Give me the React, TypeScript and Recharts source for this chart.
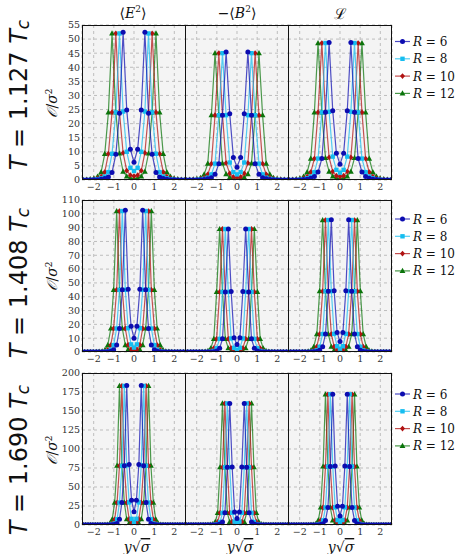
import React from 'react';
import { LineChart, Line, XAxis, YAxis, CartesianGrid } from 'recharts';

// Lattice positions (y*sqrt(sigma)) from the centre outward, one list per temperature row
const X_T1 = [0, 0.18, 0.36, 0.54, 0.72, 0.9, 1.09, 1.27, 1.45, 1.63, 1.81, 1.99, 2.17, 2.35, 2.53, 2.72];
const X_T2 = [0, 0.144, 0.29, 0.43, 0.58, 0.72, 0.86, 1.01, 1.15, 1.3, 1.44, 1.58, 1.73, 1.87, 2.02, 2.16, 2.3, 2.45, 2.59];
const X_T3 = [0, 0.12, 0.24, 0.36, 0.48, 0.6, 0.72, 0.84, 0.96, 1.08, 1.2, 1.32, 1.44, 1.56, 1.68, 1.8, 1.92, 2.04, 2.16, 2.28, 2.4, 2.52, 2.64];

const R_LABELS = ['R = 6', 'R = 8', 'R = 10', 'R = 12'];
const TEMPS = ['1.127', '1.408', '1.690'];
const COLUMN_TITLES = ['E', 'B', 'L'];
const X_TICKS = [-2, -1, 0, 1, 2];
const Y_TICKS_T1 = [0, 5, 10, 15, 20, 25, 30, 35, 40, 45, 50, 55];
const Y_TICKS_T2 = [0, 10, 20, 30, 40, 50, 60, 70, 80, 90, 100, 110];
const Y_TICKS_T3 = [0, 25, 50, 75, 100, 125, 150, 175, 200];

// Half profiles (centre outward; the picture is symmetric about 0, tail beyond list is 0)
// Row T = 1.127 Tc
const E2_T1_R6 = [6.3, 10.9, 24.8, 52.4, 23.7, 9.1, 2.7, 1.1, 0.5, 0.25, 0.1, 0.05];
const E2_T1_R8 = [3.2, 4.3, 10.0, 24.3, 52.0, 24.0, 9.3, 2.8, 1.2, 0.6, 0.3, 0.15, 0.05];
const E2_T1_R10 = [1.4, 1.7, 3.3, 9.6, 24.0, 52.0, 24.0, 9.3, 2.8, 1.2, 0.6, 0.3, 0.15, 0.05];
const E2_T1_R12 = [0.6, 0.7, 1.3, 3.0, 9.4, 24.0, 52.0, 24.0, 9.3, 2.8, 1.2, 0.6, 0.3, 0.15, 0.05];
const B2_T1_R6 = [4.5, 8.0, 23.5, 45.4, 23.0, 5.8, 2.0, 0.8, 0.4, 0.2, 0.1];
const B2_T1_R8 = [2.0, 2.8, 6.2, 23.0, 45.0, 23.0, 5.8, 2.0, 0.8, 0.4, 0.2, 0.1];
const B2_T1_R10 = [0.9, 1.1, 2.3, 6.0, 23.0, 45.0, 23.0, 5.8, 2.0, 0.8, 0.4, 0.2, 0.1];
const B2_T1_R12 = [0.4, 0.5, 0.9, 2.1, 5.9, 23.0, 45.0, 23.0, 5.8, 2.0, 0.8, 0.4, 0.2, 0.1];
const L_T1_R6 = [5.6, 9.5, 24.6, 48.8, 24.0, 7.6, 2.8, 1.2, 0.6, 0.3, 0.15];
const L_T1_R8 = [2.6, 3.6, 8.3, 24.2, 48.6, 24.0, 7.6, 2.8, 1.2, 0.6, 0.3, 0.15];
const L_T1_R10 = [1.2, 1.5, 3.0, 8.0, 24.0, 48.6, 24.0, 7.6, 2.8, 1.2, 0.6, 0.3, 0.15];
const L_T1_R12 = [0.6, 0.7, 1.3, 3.0, 7.8, 24.0, 48.6, 24.0, 7.6, 2.8, 1.2, 0.6, 0.3, 0.15];
// Row T = 1.408 Tc
const E2_T2_R6 = [10.0, 18.6, 45.5, 102.5, 45.0, 17.0, 5.0, 1.6, 0.5, 0.2, 0.05];
const E2_T2_R8 = [3.2, 5.5, 17.2, 45.0, 102.0, 45.0, 17.0, 5.0, 1.6, 0.5, 0.2, 0.05];
const E2_T2_R10 = [1.0, 1.8, 5.2, 17.0, 45.0, 102.0, 45.0, 17.0, 5.0, 1.6, 0.5, 0.2, 0.05];
const E2_T2_R12 = [0.4, 0.6, 1.7, 5.0, 17.0, 45.0, 102.0, 45.0, 17.0, 5.0, 1.6, 0.5, 0.2, 0.05];
const B2_T2_R6 = [5.4, 10.3, 43.8, 89.0, 43.5, 9.5, 2.7, 0.8, 0.25, 0.08];
const B2_T2_R8 = [1.6, 3.0, 9.8, 43.5, 89.0, 43.5, 9.5, 2.7, 0.8, 0.25, 0.08];
const B2_T2_R10 = [0.5, 0.9, 2.8, 9.5, 43.5, 89.0, 43.5, 9.5, 2.7, 0.8, 0.25, 0.08];
const B2_T2_R12 = [0.2, 0.3, 0.9, 2.7, 9.5, 43.5, 89.0, 43.5, 9.5, 2.7, 0.8, 0.25, 0.08];
const L_T2_R6 = [7.6, 14.2, 44.4, 95.7, 44.0, 13.0, 3.8, 1.2, 0.4, 0.12];
const L_T2_R8 = [2.4, 4.2, 13.1, 44.0, 95.5, 44.0, 13.0, 3.8, 1.2, 0.4, 0.12];
const L_T2_R10 = [0.8, 1.3, 3.9, 13.0, 44.0, 95.5, 44.0, 13.0, 3.8, 1.2, 0.4, 0.12];
const L_T2_R12 = [0.25, 0.5, 1.25, 3.8, 13.0, 44.0, 95.5, 44.0, 13.0, 3.8, 1.2, 0.4, 0.12];
// Row T = 1.690 Tc
const E2_T3_R6 = [17.5, 32.5, 79.5, 183.5, 78.0, 29.5, 7.5, 2.0, 0.6, 0.2];
const E2_T3_R8 = [4.0, 8.1, 29.7, 78.5, 183.0, 78.0, 29.5, 7.5, 2.0, 0.6, 0.2];
const E2_T3_R10 = [1.2, 2.2, 7.6, 29.5, 78.0, 183.0, 78.0, 29.5, 7.5, 2.0, 0.6, 0.2];
const E2_T3_R12 = [0.4, 0.8, 2.1, 7.6, 29.5, 78.0, 183.0, 78.0, 29.5, 7.5, 2.0, 0.6, 0.2];
const B2_T3_R6 = [8.5, 17.2, 76.4, 160.0, 76.0, 16.0, 4.0, 1.2, 0.4, 0.1];
const B2_T3_R8 = [2.4, 4.4, 16.1, 76.0, 160.0, 76.0, 16.0, 4.0, 1.2, 0.4, 0.1];
const B2_T3_R10 = [0.8, 1.3, 4.1, 16.0, 76.0, 160.0, 76.0, 16.0, 4.0, 1.2, 0.4, 0.1];
const B2_T3_R12 = [0.2, 0.5, 1.3, 4.0, 16.0, 76.0, 160.0, 76.0, 16.0, 4.0, 1.2, 0.4, 0.1];
const L_T3_R6 = [12.0, 24.6, 77.5, 172.0, 77.0, 23.0, 6.0, 1.6, 0.5, 0.15];
const L_T3_R8 = [3.2, 6.5, 23.2, 77.0, 172.0, 77.0, 23.0, 6.0, 1.6, 0.5, 0.15];
const L_T3_R10 = [1.0, 1.8, 6.2, 23.0, 77.0, 172.0, 77.0, 23.0, 6.0, 1.6, 0.5, 0.15];
const L_T3_R12 = [0.3, 0.65, 1.75, 6.0, 23.0, 77.0, 172.0, 77.0, 23.0, 6.0, 1.6, 0.5, 0.15];

const COLORS = ['#0c0cb0', '#16bdf0', '#b01212', '#0a740a'];
const SHAPES = ['circle', 'square', 'diamond', 'triangle'];

const ROWS = [
  { xs: X_T1, ticks: Y_TICKS_T1, max: 55, top: 25, height: 155, panels: [[E2_T1_R6, E2_T1_R8, E2_T1_R10, E2_T1_R12], [B2_T1_R6, B2_T1_R8, B2_T1_R10, B2_T1_R12], [L_T1_R6, L_T1_R8, L_T1_R10, L_T1_R12]] },
  { xs: X_T2, ticks: Y_TICKS_T2, max: 110, top: 200, height: 152, panels: [[E2_T2_R6, E2_T2_R8, E2_T2_R10, E2_T2_R12], [B2_T2_R6, B2_T2_R8, B2_T2_R10, B2_T2_R12], [L_T2_R6, L_T2_R8, L_T2_R10, L_T2_R12]] },
  { xs: X_T3, ticks: Y_TICKS_T3, max: 200, top: 373, height: 152, panels: [[E2_T3_R6, E2_T3_R8, E2_T3_R10, E2_T3_R12], [B2_T3_R6, B2_T3_R8, B2_T3_R10, B2_T3_R12], [L_T3_R6, L_T3_R8, L_T3_R10, L_T3_R12]] },
];

const COL_LEFT = [82, 185, 288];
const COL_W = 104;
const X_DOMAIN: [number, number] = [-2.58, 2.58];
const TOP_PAD = 8;

function mirror(xs: number[], half: number[]) {
  const pts: { x: number; y: number }[] = [];
  for (let i = xs.length - 1; i > 0; i--) pts.push({ x: -xs[i], y: i < half.length ? half[i] : 0 });
  for (let i = 0; i < xs.length; i++) pts.push({ x: xs[i], y: i < half.length ? half[i] : 0 });
  return pts;
}

function markerShape(shape: string, cx: number, cy: number, color: string, key?: string) {
  if (shape === 'circle') return <circle key={key} cx={cx} cy={cy} r={2.5} fill={color} />;
  if (shape === 'square') return <rect key={key} x={cx - 2.2} y={cy - 2.2} width={4.4} height={4.4} fill={color} />;
  if (shape === 'diamond') return <path key={key} d={`M${cx},${cy - 2.9} L${cx + 2.5},${cy} L${cx},${cy + 2.9} L${cx - 2.5},${cy} Z`} fill={color} />;
  return <path key={key} d={`M${cx},${cy - 3.1} L${cx + 2.9},${cy + 2.1} L${cx - 2.9},${cy + 2.1} Z`} fill={color} />;
}

const fmtTick = (v: number) => (v < 0 ? `\u2212${Math.abs(v)}` : `${v}`);

function Panel({ row, col }: { row: number; col: number }) {
  const r = ROWS[row];
  const showY = col === 0;
  const yW = showY ? 32 : 0;
  const xH = 16;
  const left = COL_LEFT[col];
  const order = [0, 1, 2, 3];
  return (
    <>
      <div style={{ position: 'absolute', left: left - yW, top: r.top - TOP_PAD }}>
        <LineChart width={yW + COL_W + 1} height={r.height + TOP_PAD + xH} margin={{ top: TOP_PAD, right: 1, left: 0, bottom: 0 }}>
          <CartesianGrid stroke="#bdbdbd" strokeDasharray="3 3" fill="#f4f4f4" />
          <XAxis type="number" dataKey="x" domain={X_DOMAIN} ticks={X_TICKS} allowDataOverflow interval={0}
            height={xH} tickLine={false} axisLine={false} tickSize={0} tickMargin={3} tickFormatter={fmtTick}
            tick={{ fontSize: 9.5, fill: '#333', fontFamily: 'DejaVu Serif' }} />
          <YAxis type="number" domain={[0, r.max]} ticks={r.ticks} allowDataOverflow interval={0} hide={!showY}
            width={yW} tickLine={false} axisLine={false} tickSize={0} tickMargin={2}
            tick={{ fontSize: 9.5, fill: '#333', fontFamily: 'DejaVu Serif' }} />
          {order.slice().reverse().map((s) => (
            <Line key={s} data={mirror(r.xs, r.panels[col][s])} dataKey="y" type="linear" isAnimationActive={false}
              stroke={COLORS[s]} strokeOpacity={0.72} strokeWidth={1.2}
              dot={(p: any) => markerShape(SHAPES[s], p.cx, p.cy, COLORS[s], `m${s}-${p.index}`)}
              activeDot={false} />
          ))}
        </LineChart>
      </div>
      <div style={{ position: 'absolute', left, top: r.top, width: COL_W, height: r.height, border: '1px solid #111', boxSizing: 'border-box', pointerEvents: 'none' }} />
    </>
  );
}

function Legend({ y0 }: { y0: number }) {
  const gap = 17.3;
  return (
    <g>
      {R_LABELS.map((lab, i) => {
        const y = y0 + i * gap;
        const [rr, rest] = [lab.slice(0, 1), lab.slice(1)];
        return (
          <g key={i}>
            <line x1={395} x2={410} y1={y} y2={y} stroke={COLORS[i]} strokeOpacity={0.75} strokeWidth={1.2} />
            {markerShape(SHAPES[i], 402.5, y, COLORS[i])}
            <text x={413} y={y + 4.5} fontSize={12} fontFamily="DejaVu Serif" fill="#111">
              <tspan fontStyle="italic">{rr}</tspan>{rest}
            </text>
          </g>
        );
      })}
    </g>
  );
}

const ROW_LABEL_Y = [95, 283, 460];
const YLABEL_Y = [103, 276, 450];
const LEGEND_Y = [41.5, 219, 394];
const XLABEL_X = [137, 240, 341];

export default function App() {
  return (
    <div style={{ position: 'absolute', left: 0, top: 0, width: 457, height: 554, background: '#fff', overflow: 'hidden' }}>
      {ROWS.map((_, ri) => [0, 1, 2].map((ci) => <Panel key={`${ri}-${ci}`} row={ri} col={ci} />))}
      <svg width={457} height={554} style={{ position: 'absolute', left: 0, top: 0, pointerEvents: 'none' }}>
        {/* column titles */}
        <text x={133} y={18} textAnchor="middle" fontSize={14} fontFamily="DejaVu Serif" fill="#111">
          ⟨<tspan fontStyle="italic">{COLUMN_TITLES[0]}</tspan><tspan fontSize={9} dy={-6}>2</tspan><tspan dy={6}>⟩</tspan>
        </text>
        <text x={237} y={18} textAnchor="middle" fontSize={14} fontFamily="DejaVu Serif" fill="#111">
          −⟨<tspan fontStyle="italic">{COLUMN_TITLES[1]}</tspan><tspan fontSize={9} dy={-6}>2</tspan><tspan dy={6}>⟩</tspan>
        </text>
        <text x={340} y={19} textAnchor="middle" fontSize={15} fontFamily="DejaVu Serif" fill="#111">ℒ</text>
        {/* row labels */}
        {TEMPS.map((t, i) => (
          <text key={t} transform={`translate(27, ${ROW_LABEL_Y[i]}) rotate(-90)`} textAnchor="middle" fontSize={24} fontFamily="DejaVu Sans" fill="#111">
            <tspan fontStyle="italic">T</tspan> = {t} <tspan fontStyle="italic">T</tspan><tspan fontStyle="italic" fontSize={17} dy={2}>c</tspan>
          </text>
        ))}
        {/* y labels */}
        {YLABEL_Y.map((y, i) => (
          <text key={i} transform={`translate(57, ${y}) rotate(-90)`} textAnchor="middle" fontSize={14} fontFamily="DejaVu Serif" fill="#111">
            <tspan fontStyle="italic">𝒪</tspan>/<tspan fontStyle="italic">σ</tspan><tspan fontSize={9} dy={-5}>2</tspan>
          </text>
        ))}
        {/* x labels */}
        {XLABEL_X.map((x, i) => (
          <text key={i} x={x} y={552} textAnchor="middle" fontSize={14} fontFamily="DejaVu Serif" fill="#111">
            <tspan fontStyle="italic">y</tspan>√<tspan fontStyle="italic" textDecoration="overline">σ</tspan>
          </text>
        ))}
        {LEGEND_Y.map((y, i) => <Legend key={i} y0={y} />)}
      </svg>
    </div>
  );
}
